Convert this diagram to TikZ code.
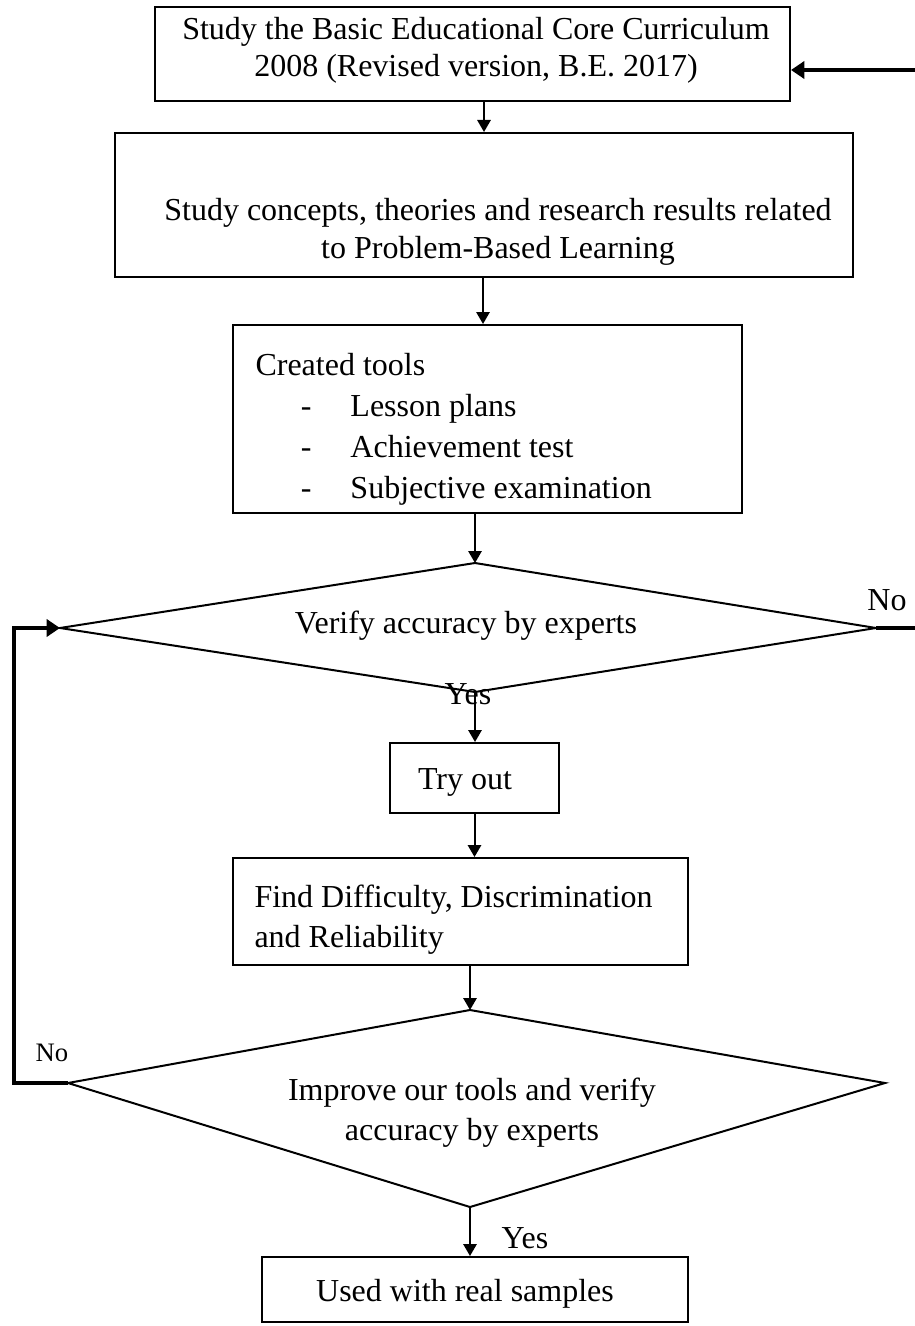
\documentclass[tikz,border=0pt]{standalone}
\usepackage{fontspec}
\setmainfont{Liberation Serif}
\usetikzlibrary{arrows.meta,fit}
\begin{document}
\begin{tikzpicture}[x=0.375pt,y=-0.375pt,
  box/.style={draw, line width=0.75pt, inner sep=0pt},
  txt/.style={font=\fontsize{12}{14}\selectfont, inner sep=0pt},
  wtxt/.style={font=\fontsize{12}{15}\selectfont, inner sep=0pt},
  smalltxt/.style={font=\fontsize{10}{12}\selectfont, inner sep=0pt},
  flow/.style={line width=0.75pt, -{Triangle[length=4.5pt,width=5pt]}},
  loopline/.style={line width=1.7pt},
  looparrow/.style={line width=1.7pt, -{Triangle[length=5pt,width=6.4pt]}},
]
\useasboundingbox (0,0) rectangle (915,1326);

% process boxes
\node[box, fit={(155,7)(790,101)}] (b1) {};
\node[box, fit={(115,133)(853,277)}] (b2) {};
\node[box, fit={(233,325)(742,513)}] (b3) {};
\node[box, fit={(390,743)(559,813)}] (b4) {};
\node[box, fit={(233,858)(688,965)}] (b5) {};
\node[box, fit={(262,1257)(688,1322)}] (b6) {};

% decision diamonds
\coordinate (d1t) at (475,563);
\coordinate (d1r) at (876,628);
\coordinate (d1b) at (475,692);
\coordinate (d1l) at (60,628);
\draw[line width=0.75pt] (d1t) -- (d1r) -- (d1b) -- (d1l) -- cycle;

\coordinate (d2t) at (470,1010);
\coordinate (d2r) at (885,1083);
\coordinate (d2b) at (470,1207);
\coordinate (d2l) at (68,1083);
\draw[line width=0.75pt] (d2t) -- (d2r) -- (d2b) -- (d2l) -- cycle;

% texts
\node[txt, align=center] (t1) at (476,50.5) {Study the Basic Educational Core Curriculum\\2008 (Revised version, B.E. 2017)};
\node[txt, align=center] (t2) at (498,232) {Study concepts, theories and research results related\\to Problem-Based Learning};
\node[txt, align=left, anchor=west, font=\fontsize{12}{15.4}\selectfont] (t3) at (255,429)
  {Created tools\\
   \makebox[35.6pt][l]{\hspace*{17pt}-}Lesson plans\\
   \makebox[35.6pt][l]{\hspace*{17pt}-}Achievement test\\
   \makebox[35.6pt][l]{\hspace*{17pt}-}Subjective examination};
\node[txt] (t4) at (466,626) {Verify accuracy by experts};
\node[txt] (t5) at (465,782) {Try out};
\node[wtxt, align=left, anchor=west] (t6) at (254,920) {Find Difficulty, Discrimination\\and Reliability};
\node[wtxt, align=center] (t7) at (472,1113) {Improve our tools and verify\\accuracy by experts};
\node[txt] (t8) at (465,1294) {Used with real samples};

% branch labels
\node[txt] (yes1) at (468,694) {Yes};
\node[txt] (yes2) at (525,1238) {Yes};
\node[txt] (no1) at (887,600) {No};
\node[smalltxt] (no2) at (52,1053) {No};

% main flow
\draw[flow] (b1.south -| b2.north) -- (b2.north);
\draw[flow] (b2.south -| 483,0) -- (b3.north -| 483,0);
\draw[flow] (b3.south -| d1t) -- (d1t);
\draw[flow] (d1b) -- (d1b |- b4.north);
\draw[flow] (b4.south) -- (b4.south |- b5.north);
\draw[flow] (b5.south -| d2t) -- (d2t);
\draw[flow] (d2b) -- (d2b |- b6.north);

% feedback loops
\coordinate (lc1) at (14,1083);
\coordinate (lc2) at (14,628);
\draw[looparrow] (d2l) -- (lc1) -- (lc2) -- (d1l);
\coordinate (re) at (915,628);
\draw[loopline] (d1r) -- (re);
\coordinate (te) at (915,70);
\draw[looparrow] (te) -- (b1.east |- te);
\end{tikzpicture}
\end{document}
